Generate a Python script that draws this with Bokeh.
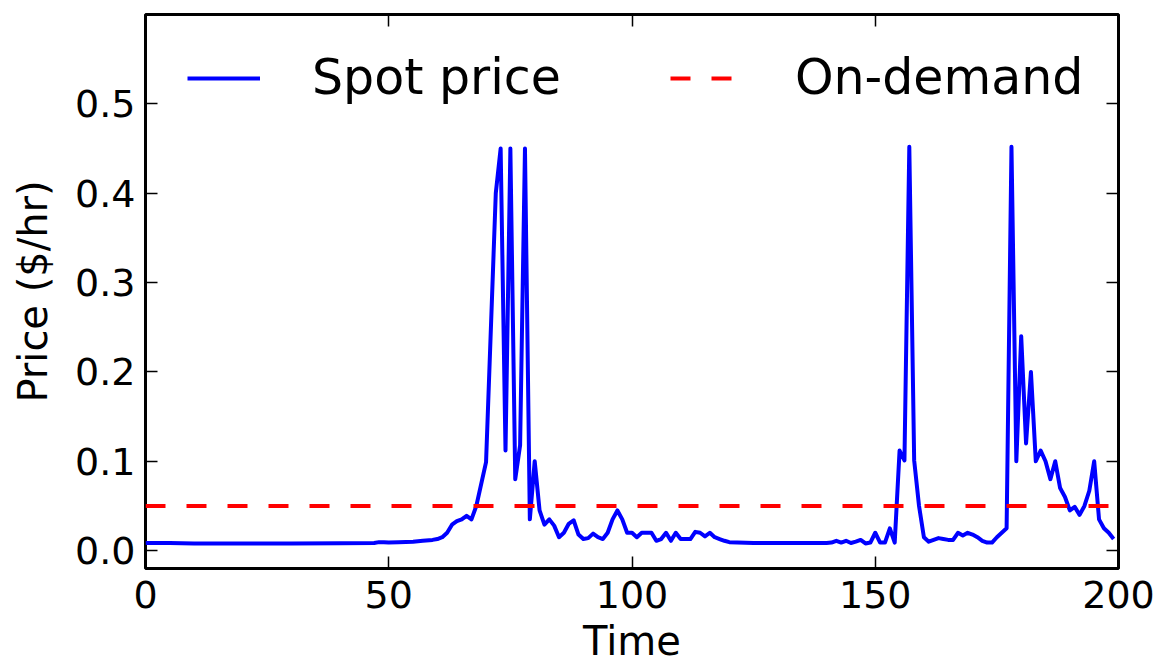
from bokeh.plotting import figure
from bokeh.models import LinearAxis, FixedTicker, Range1d, Legend, LegendItem
from bokeh.embed import file_html
from bokeh.resources import INLINE

# Spot price trace (hours, $/hr)
time = [0, 5, 10, 20, 30, 40, 47, 48, 49, 50, 52, 55, 57, 59, 60, 61, 62, 63, 64, 65, 66, 67, 68,
        70, 72, 73, 74, 75, 76, 77, 78, 79, 80, 81, 82, 83, 84, 85, 86, 87, 88, 89, 90,
        91, 92, 93, 94, 95, 96, 97, 98, 99, 100, 101, 102, 103, 104, 105, 106, 107, 108,
        109, 110, 111, 112, 113, 114, 115, 116, 117, 118, 119, 120, 125, 130, 135, 140,
        141, 142, 143, 144, 145, 146, 147, 148, 149, 150, 151, 152, 153, 154, 155, 156,
        157, 158, 159, 160, 161, 162, 163, 164, 165, 166, 167, 168, 169, 170, 171, 172,
        173, 174, 175, 176, 177, 178, 179, 180, 181, 182, 183, 184, 185, 186, 187, 188,
        189, 190, 191, 192, 193, 194, 195, 196, 197, 198, 199]
spot_price = [0.0085, 0.0085, 0.008, 0.008, 0.008, 0.0082, 0.0085, 0.0095, 0.0095, 0.009, 0.0095,
              0.010, 0.011, 0.012, 0.013, 0.015, 0.020, 0.029, 0.033, 0.035, 0.039, 0.035, 0.050,
              0.099, 0.400, 0.450, 0.112, 0.450, 0.080, 0.118, 0.450, 0.035, 0.100, 0.045, 0.029,
              0.035, 0.028, 0.015, 0.020, 0.030, 0.034, 0.018, 0.013,
              0.014, 0.019, 0.015, 0.013, 0.020, 0.035, 0.045, 0.035, 0.020, 0.020, 0.015, 0.020,
              0.020, 0.020, 0.011, 0.013, 0.020, 0.011,
              0.020, 0.013, 0.013, 0.013, 0.021, 0.020, 0.016, 0.020, 0.015, 0.013, 0.011, 0.0095,
              0.0085, 0.0085, 0.0085, 0.0085,
              0.009, 0.011, 0.009, 0.011, 0.0085, 0.010, 0.012, 0.008, 0.009, 0.020, 0.009, 0.009,
              0.025, 0.009, 0.112, 0.101,
              0.452, 0.101, 0.050, 0.015, 0.010, 0.012, 0.014, 0.013, 0.012, 0.012, 0.020, 0.017,
              0.020, 0.018, 0.015, 0.011,
              0.009, 0.009, 0.015, 0.020, 0.025, 0.452, 0.100, 0.240, 0.120, 0.200, 0.100, 0.112,
              0.100, 0.080, 0.100, 0.070,
              0.060, 0.045, 0.049, 0.040, 0.050, 0.067, 0.100, 0.035, 0.025, 0.020, 0.013]

on_demand_price = 0.05

x_ticks = [0, 50, 100, 150, 200]
y_ticks = [0.0, 0.1, 0.2, 0.3, 0.4, 0.5]

FONT = "DejaVu Sans"

p = figure(width=1163, height=666, output_backend="svg", toolbar_location=None,
           x_range=Range1d(0, 200), y_range=Range1d(-0.02, 0.6),
           x_axis_location=None, y_axis_location=None,
           min_border_left=145, min_border_right=45, min_border_top=14, min_border_bottom=98)
p.background_fill_color = "white"
p.border_fill_color = "white"
p.xgrid.visible = False
p.ygrid.visible = False
p.outline_line_color = "black"
p.outline_line_width = 3


def make_axis(ticks, fmt_labels, show_labels):
    ax = LinearAxis(ticker=FixedTicker(ticks=ticks))
    ax.axis_line_color = None
    ax.major_tick_in = 12
    ax.major_tick_out = 0
    ax.major_tick_line_color = "black"
    ax.major_tick_line_width = 1.5
    ax.minor_tick_line_color = None
    if show_labels:
        ax.major_label_overrides = fmt_labels
        ax.major_label_text_font = FONT
        ax.major_label_text_font_size = "38px"
        ax.major_label_text_color = "black"
        ax.axis_label_text_font = FONT
        ax.axis_label_text_font_size = "40px"
        ax.axis_label_text_font_style = "normal"
        ax.axis_label_text_color = "black"
    else:
        # tick marks only on the mirrored sides
        ax.major_label_text_color = None
        ax.major_label_text_font_size = "1px"
        ax.major_label_standoff = 0
    return ax


x_labels = {t: str(t) for t in x_ticks}
y_labels = {t: f"{t:.1f}" for t in y_ticks}

bottom = make_axis(x_ticks, x_labels, True)
bottom.axis_label = "Time"
bottom.major_label_standoff = 12
bottom.axis_label_standoff = 7
left = make_axis(y_ticks, y_labels, True)
left.axis_label = "Price ($/hr)"
left.major_label_standoff = 10
left.axis_label_standoff = 16
top = make_axis(x_ticks, x_labels, False)
right = make_axis(y_ticks, y_labels, False)

p.add_layout(bottom, "below")
p.add_layout(left, "left")
p.add_layout(top, "above")
p.add_layout(right, "right")

spot = p.line(time, spot_price, line_color="blue", line_width=4, line_join="round")
ond = p.line([0, 200], [on_demand_price, on_demand_price], line_color="red", line_width=4,
             line_dash="20 21")

legend = Legend(items=[LegendItem(label="Spot price", renderers=[spot]),
                       LegendItem(label="On-demand", renderers=[ond])],
                orientation="horizontal", location=(42, 462),
                glyph_width=73, glyph_height=20, label_standoff=52, spacing=109,
                padding=0, margin=0, border_line_color=None, background_fill_alpha=0,
                label_text_font=FONT, label_text_font_size="49px", label_text_color="black")
p.add_layout(legend, "center")

open("out.html", "w").write(file_html(p, INLINE))
